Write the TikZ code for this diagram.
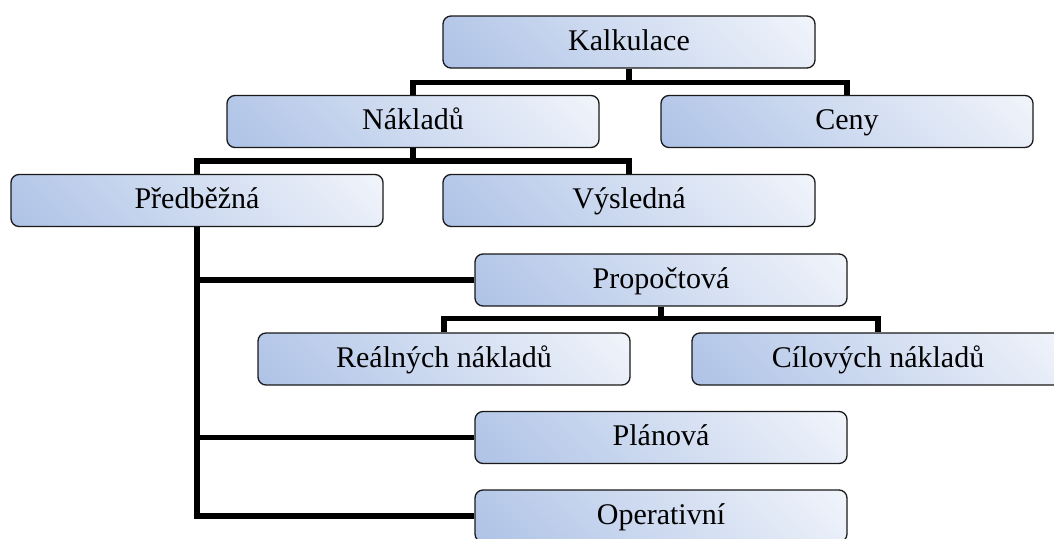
\documentclass[tikz,border=0pt]{standalone}
\usepackage{fontspec}
\setmainfont{Liberation Serif}
\usetikzlibrary{calc}
\definecolor{boxdark}{RGB}{160,184,226}
\definecolor{boxlight}{RGB}{255,255,255}
\definecolor{boxline}{RGB}{25,25,25}
\pgfdeclareverticalshading{orgshade}{100bp}{color(0bp)=(boxdark); color(100bp)=(boxlight)}
\tikzset{
  orgbox/.style={rectangle, rounded corners=8pt, draw=boxline, line width=1.3pt,
    shading=orgshade, shading angle=-45,
    minimum width=372pt, minimum height=52pt, inner sep=0pt,
    text height=22pt, text depth=6pt,
    font=\fontsize{30}{36}\selectfont},
  conn/.style={line width=5.5pt, draw=black}
}
\begin{document}
\begin{tikzpicture}[x=1pt,y=-1pt]
\useasboundingbox (0,0) rectangle (1054,538);
\clip (0,0) rectangle (1054,538);
% nodes
\node[orgbox] (K)  at (629,42)    {Kalkulace};
\node[orgbox] (N)  at (413,121.5) {Nákladů};
\node[orgbox] (C)  at (847,121.5) {Ceny};
\node[orgbox] (P)  at (197,200.5) {Předběžná};
\node[orgbox] (V)  at (629,200.5) {Výsledná};
\node[orgbox] (Pr) at (661,280)   {Propočtová};
\node[orgbox] (R)  at (444,359)   {Reálných nákladů};
\node[orgbox] (Ci) at (878,359)   {Cílových nákladů};
\node[orgbox] (Pl) at (661,437.5) {Plánová};
\node[orgbox] (O)  at (661,516)   {Operativní};
% junctions
\coordinate (j1) at ($(K.south)+(0,14)$);
\coordinate (j2) at ($(N.south)+(0,13)$);
\coordinate (j3) at ($(Pr.south)+(0,12)$);
% connectors
\draw[conn] (K.south) -- (j1);
\draw[conn] (N.north) |- (j1) -| (C.north);
\draw[conn] (N.south) -- (j2);
\draw[conn] (P.north) |- (j2) -| (V.north);
\draw[conn] (P.south) |- (O.west);
\draw[conn] (P.south) |- (Pr.west);
\draw[conn] (P.south) |- (Pl.west);
\draw[conn] (Pr.south) -- (j3);
\draw[conn] (R.north) |- (j3) -| (Ci.north);
\end{tikzpicture}
\end{document}
